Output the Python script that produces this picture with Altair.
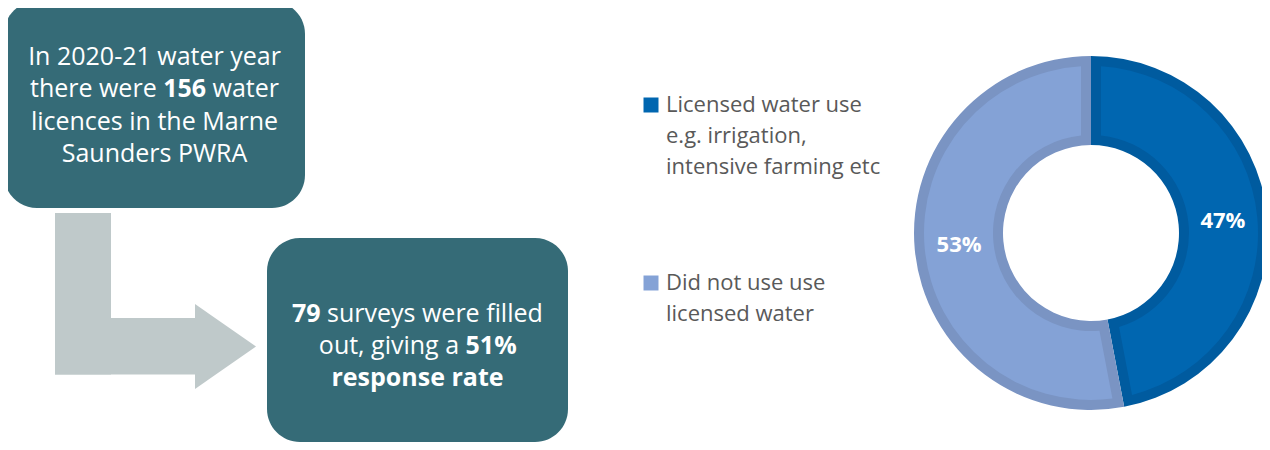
import altair as alt
import pandas as pd

# ---------------- data ----------------
legend_labels = [["Licensed water use", "e.g. irrigation,", "intensive farming etc"],
                 ["Did not use use", "licensed water"]]
categories = [" ".join(l) for l in legend_labels]
shares = [47, 53]
share_labels = ["47%", "53%"]

# text pieces of the two boxes: (text, bold)
box1_pieces = [[("In 2020-21 water year", 0)],
               [("there were", 0), ("156", 1), ("water", 0)],
               [("licences in the Marne", 0)],
               [("Saunders PWRA", 0)]]
box2_pieces = [[("79", 1), ("surveys were filled", 0)],
               [("out, giving a", 0), ("51%", 1)],
               [("response rate", 1)]]

# ---------------- style / layout ----------------
FONT = "Open Sans"
TEAL = "#356b77"
GRAY = "#bfc9ca"
DARK_FILL, DARK_BAND = "#0066b0", "#005b9f"
LIGHT_FILL, LIGHT_BAND = "#84a2d6", "#7a94c3"
LEG_TXT = "#595959"

W, H = 1254, 434
M = 8  # page margin: screen coordinate -> chart coordinate


def c(v):
    return v - M


BOX_FS = 25
REG = {' ': 532, ',': 502, '-': 659, '%': 1716, 'A': 1296, 'I': 600, 'M': 1849, 'P': 1245,
       'R': 1280, 'S': 1098, 'W': 1886, 'a': 1139, 'c': 975, 'd': 1255, 'e': 1149, 'f': 694,
       'g': 1122, 'h': 1257, 'i': 518, 'l': 518, 'm': 1905, 'n': 1257, 'o': 1237, 'p': 1255,
       'r': 836, 's': 977, 't': 723, 'u': 1257, 'v': 1026, 'w': 1593, 'y': 1028}
BLD = {' ': 532, '%': 1800, 'r': 960, 'e': 1180, 's': 1010, 'p': 1290, 'o': 1260, 'n': 1320,
       'a': 1220, 't': 870}


def tw(s, bold, fs):
    tab = BLD if bold else REG
    tot = 0
    for ch in s:
        if ch.isdigit():
            tot += 1171
        else:
            tot += tab.get(ch, REG.get(ch, 1100))
    return tot / 2048 * fs


def build_segments(lines, cx, y0, step, fs):
    rows = []
    for i, pieces in enumerate(lines):
        y = y0 + i * step
        if len(pieces) == 1:
            t, b = pieces[0]
            rows.append(dict(t=t, b=b, al="center", x=cx, y=y))
            continue
        widths = [tw(t, b, fs) for t, b in pieces]
        sp = tw(" ", 0, fs)
        total = sum(widths) + sp * (len(pieces) - 1)
        x = cx - total / 2
        for j, ((t, b), w) in enumerate(zip(pieces, widths)):
            if j == 0:
                rows.append(dict(t=t, b=b, al="right", x=x + w, y=y))
            else:
                rows.append(dict(t=t, b=b, al="left", x=x, y=y))
            x += w + sp
    return rows


xs = alt.Scale(domain=[0, W], range=[0, W], nice=False, zero=False)
ys = alt.Scale(domain=[0, H], range=[0, H], nice=False, zero=False)
one = pd.DataFrame({"k": [0]})


def rect(x1, x2, y1, y2, color, cr=0):
    return alt.Chart(one).mark_rect(color=color, cornerRadius=cr).encode(
        x=alt.value(c(x1)), x2=alt.value(c(x2)), y=alt.value(c(y1)), y2=alt.value(c(y2)))


# boxes
box1 = rect(4, 305, 1, 208, TEAL, 33)
box2 = rect(267, 568, 238, 442, TEAL, 33)

# L-shaped arrow
arr_v = rect(55, 111, 213, 374.5, GRAY)
arr_h = rect(55, 196, 318, 374.5, GRAY)
arr_head = alt.Chart(one).mark_point(
    shape="M-0.718,-1L0.718,0L-0.718,1Z", size=85 * 85, filled=True, opacity=1,
    color=GRAY, strokeWidth=0).encode(x=alt.value(c(225.5)), y=alt.value(c(346.5)))

# box texts
rows = build_segments(box1_pieces, c(154.5), c(57), 32.4, BOX_FS) + \
    build_segments(box2_pieces, c(417.5), c(314), 32, BOX_FS)
seg = pd.DataFrame(rows)
text_layers = []
for (b, al), g in seg.groupby(["b", "al"]):
    text_layers.append(
        alt.Chart(g.reset_index(drop=True)).mark_text(
            align=al, baseline="middle", font=FONT, fontSize=BOX_FS,
            fontWeight="bold" if b else "normal", color="white").encode(
            x=alt.X("x:Q", scale=xs, axis=None),
            y=alt.Y("y:Q", scale=ys, axis=None),
            text="t:N"))

# donut
CX, CY, R, r, BAND = c(1091), c(233), 177, 88, 10
pad = 2 * BAND / ((R - BAND) ** 2 + (r + BAND) ** 2) ** 0.5
donut_df = pd.DataFrame({"category": categories, "share": shares,
                         "label": share_labels, "idx": [0, 1]})
base = alt.Chart(donut_df).encode(
    theta=alt.Theta("share:Q", stack=True),
    order=alt.Order("idx:Q"),
    x=alt.value(CX), y=alt.value(CY))
band = base.mark_arc(outerRadius=R, innerRadius=r).encode(
    color=alt.Color("category:N", scale=alt.Scale(domain=categories, range=[DARK_BAND, LIGHT_BAND]),
                    legend=None))
fill = base.mark_arc(outerRadius=R - BAND, innerRadius=r + BAND, padAngle=pad).encode(
    color=alt.Color("category:N", scale=alt.Scale(domain=categories, range=[DARK_FILL, LIGHT_FILL]),
                    legend=None))
labels = base.mark_text(radius=(R + r) / 2, font=FONT, fontSize=22, fontWeight="bold",
                        color="white").encode(text="label:N")

# custom legend
LEG_Y = [c(105), c(283)]
LEG_STEP = 31
leg_sq_df = pd.DataFrame({"category": categories, "y": LEG_Y})
leg_sq = alt.Chart(leg_sq_df).mark_square(size=225, opacity=1).encode(
    x=alt.value(c(651)),
    y=alt.Y("y:Q", scale=ys, axis=None),
    color=alt.Color("category:N", scale=alt.Scale(domain=categories, range=[DARK_FILL, LIGHT_FILL]),
                    legend=None))
leg_rows = []
for cat, lines, y0 in zip(categories, legend_labels, LEG_Y):
    for k, t in enumerate(lines):
        leg_rows.append({"category": cat, "t": t, "y": y0 + k * LEG_STEP})
leg_txt = alt.Chart(pd.DataFrame(leg_rows)).mark_text(
    align="left", baseline="middle", font=FONT, fontSize=22, color=LEG_TXT).encode(
    x=alt.value(c(666)),
    y=alt.Y("y:Q", scale=ys, axis=None),
    text="t:N")

chart = alt.layer(
    box1, box2, arr_v, arr_h, arr_head, *text_layers, band, fill, labels, leg_sq, leg_txt
).resolve_scale(color="independent").properties(
    width=W, height=H, padding=0, autosize="none"
).configure_view(stroke=None)

chart.save("out.html", embed_options={"renderer": "svg", "actions": False})
